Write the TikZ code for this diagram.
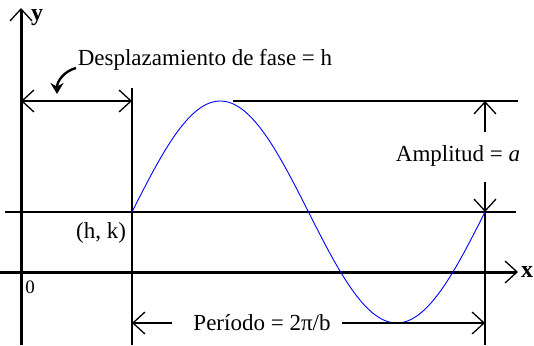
\documentclass[tikz,border=0pt]{standalone}
\usepackage{fontspec}
\setmainfont{Liberation Serif}
\usetikzlibrary{arrows.meta}
\tikzset{
  barb/.style={-{Straight Barb[length=12pt,width=22pt,line width=1.3pt]}},
  dimline/.style={line width=1.3pt},
  axisline/.style={line width=3pt},
  lbl/.style={font=\fontsize{23}{27}\selectfont, inner sep=1pt}
}
\begin{document}
\begin{tikzpicture}[x=1pt,y=-1pt]
    \useasboundingbox (0,0) rectangle (534,345);
    % key points
    \coordinate (O) at (21,272);
    \coordinate (hk) at (132,212);
    \coordinate (end) at (485,212);
    \coordinate (peak) at (222,101);
    % axes
    \draw[axisline,barb] (21,345) -- (21,8) coordinate (ytip);
    \draw[axisline,barb] (0,272) -- (518,272) coordinate (xtip);
    \node[lbl,font=\fontsize{24}{28}\selectfont\bfseries] (ylab) at (37,18) {y};
    \node[lbl,font=\fontsize{24}{28}\selectfont\bfseries] (xlab) at (527,272) {x};
    \node[lbl,font=\fontsize{19}{22}\selectfont] (zero) at (30,287) {0};
    % guide lines
    \draw[dimline] (5,212) -- (516,212);
    \draw[dimline] (233,101) -- (518,101);
    \draw[dimline] (132,88) -- (132,345);
    \draw[dimline] (485,212) -- (485,345);
    % the curve
    \draw[blue, line width=0.9pt, domain=0:353, samples=120, shift={(hk)}]
        plot (\x, {-111*sin(1.01983*\x)});
    \node[lbl] (hklab) at (101,233) {(h, k)};
    % phase shift
    \coordinate (ph1) at (21,101);
    \coordinate (ph2) at (132,101);
    \draw[dimline,{Straight Barb[length=12pt,width=22pt,line width=1.3pt]}-{Straight Barb[length=12pt,width=22pt,line width=1.3pt]}] (ph1) -- (ph2);
    \node[lbl] (phase) at (205,60) {Desplazamiento de fase = h};
    \draw[line width=2.4pt,-{Stealth[length=11pt,width=13pt]}] (76,68) to[out=195,in=90] (57,94);
    % amplitude
    \node[lbl] (amp) at (458,156) {Amplitud = \textit{a}};
    \draw[dimline,barb] (485,132) -- (485,101);
    \draw[dimline,barb] (485,182) -- (end);
    % period
    \node[lbl] (per) at (262,323) {Período = 2π/b};
    \draw[dimline,barb] (172,323) -- (132,323);
    \draw[dimline,barb] (342,323) -- (485,323);
\end{tikzpicture}
\end{document}
